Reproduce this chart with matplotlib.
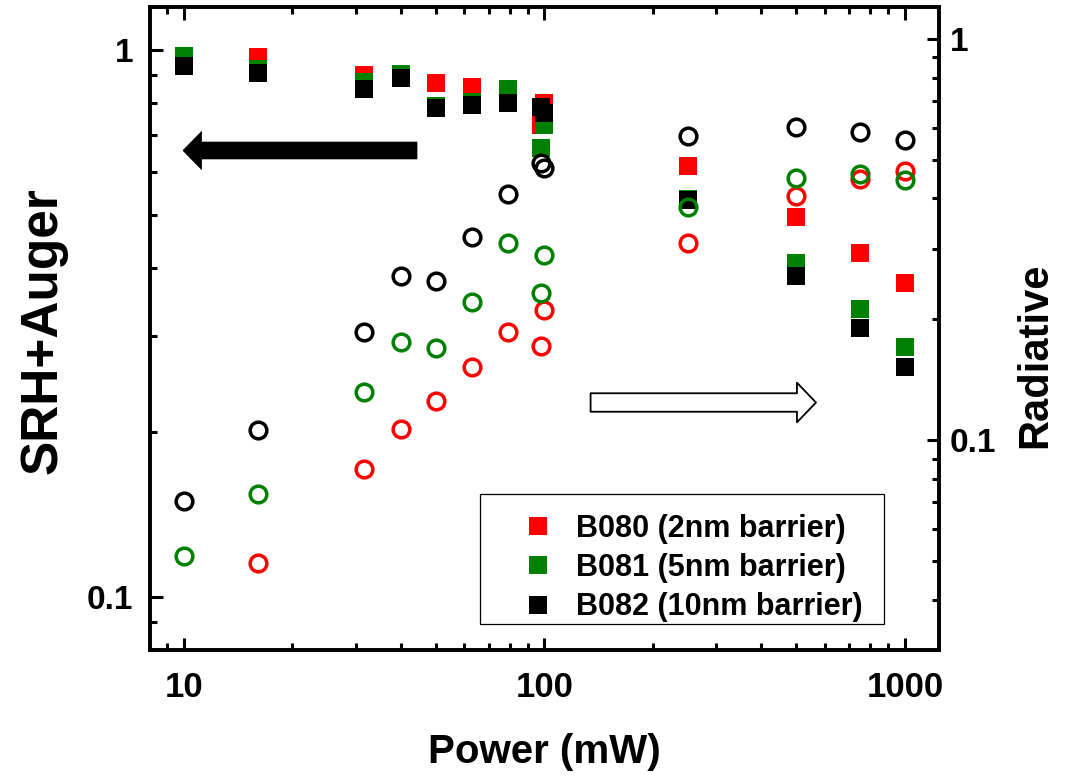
import numpy as np
import matplotlib
matplotlib.use("Agg")
import matplotlib.pyplot as plt
from matplotlib.patches import FancyArrowPatch, Rectangle, ArrowStyle
from matplotlib.ticker import LogLocator, NullFormatter, FixedLocator, FixedFormatter

# ---------------- data ----------------
power = [10, 16, 31.6, 40, 50, 63, 79, 98, 100, 250, 500, 750, 1000]

# SRH+Auger fraction (left axis, filled squares)
srh_b080 = [0.975, 0.972, 0.901, 0.900, 0.870, 0.855, 0.850, 0.731, 0.800, 0.613, 0.496, 0.426, 0.376]
srh_b081 = [0.975, 0.926, 0.876, 0.905, 0.791, 0.803, 0.850, 0.664, 0.731, 0.535, 0.408, 0.336, 0.287]
srh_b082 = [0.935, 0.909, 0.850, 0.890, 0.785, 0.795, 0.800, 0.787, 0.769, 0.533, 0.386, 0.311, 0.263]

# Radiative fraction (right axis, open circles)
rad_b080 = [np.nan, 0.0493, 0.0847, 0.1063, 0.1253, 0.1518, 0.1862, 0.1716, 0.211, 0.310, 0.406, 0.447, 0.469]
rad_b081 = [0.0514, 0.0736, 0.1315, 0.1758, 0.1698, 0.2213, 0.3094, 0.232, 0.289, 0.381, 0.449, 0.461, 0.444]
rad_b082 = [0.0706, 0.1059, 0.1856, 0.2564, 0.249, 0.3214, 0.410, 0.490, 0.4777, 0.573, 0.604, 0.587, 0.560]

labels = ["B080 (2nm barrier)", "B081 (5nm barrier)", "B082 (10nm barrier)"]
colors = ["#ff0000", "#008000", "#000000"]

x_ticks = [10, 100, 1000]
x_ticklabels = ["10", "100", "1000"]
y_ticks = [0.1, 1]
y_ticklabels = ["0.1", "1"]

# ---------------- style ----------------
plt.rcParams["font.family"] = ["Liberation Sans", "DejaVu Sans"]
plt.rcParams["font.weight"] = "bold"

W, H = 1068, 776
fig = plt.figure(figsize=(W / 100, H / 100), dpi=100)
L, R, T, B = 150, 939, 7, 650
ax = fig.add_axes([L / W, (H - B) / H, (R - L) / W, (B - T) / H])
ax.set_xscale("log")
ax.set_yscale("log")
ax.set_xlim(8.05, 1243)
ax.set_ylim(0.08, 1.2)

ax2 = ax.twinx()
ax2.set_yscale("log")
ax2.set_ylim(0.03, 1.2)

ms_sq = 12.7
for vals, c, lab in zip([srh_b080, srh_b081, srh_b082], colors, labels):
    ax.plot(power, vals, ls="none", marker="s", ms=ms_sq, mfc=c, mec=c, mew=0, label=lab)

for vals, c in zip([rad_b080, rad_b081, rad_b082], colors):
    ax2.plot(power, vals, ls="none", marker="o", ms=12.0, mfc="none", mec=c, mew=2.5)

spine_lw = 2.6
for a in (ax, ax2):
    for s in a.spines.values():
        s.set_linewidth(spine_lw)

ax.xaxis.set_major_locator(FixedLocator(x_ticks))
ax.xaxis.set_major_formatter(FixedFormatter(x_ticklabels))
ax.xaxis.set_minor_locator(LogLocator(base=10, subs=np.arange(2, 10)))
ax.xaxis.set_minor_formatter(NullFormatter())
for a in (ax, ax2):
    a.yaxis.set_major_locator(FixedLocator(y_ticks))
    a.yaxis.set_major_formatter(FixedFormatter(y_ticklabels))
    a.yaxis.set_minor_locator(LogLocator(base=10, subs=np.arange(2, 10)))
    a.yaxis.set_minor_formatter(NullFormatter())

ax.tick_params(which="both", direction="in", top=True, right=False, width=2.2)
ax.tick_params(which="major", length=9)
ax.tick_params(which="minor", length=5)
ax.tick_params(axis="x", which="major", pad=15, labelsize=25)
ax.tick_params(axis="y", which="major", pad=12, labelsize=24)
ax2.tick_params(which="both", direction="in", right=True, left=False, width=2.2)
ax2.tick_params(which="major", length=9, labelsize=24, pad=8)
ax2.tick_params(which="minor", length=5)

# axis titles
ax.set_xlabel("Power (mW)", fontsize=29, fontweight="bold", va="center")
ax.xaxis.set_label_coords(0.5, (B - 752) / (B - T))
ax.set_ylabel("SRH+Auger", fontsize=37, fontweight="bold", va="center")
ax.yaxis.set_label_coords((43 - L) / (R - L), (B - 331) / (B - T))
ax2.set_ylabel("Radiative", fontsize=30, fontweight="bold", va="center")
ax2.yaxis.set_label_coords((1035 - L) / (R - L), (B - 355) / (B - T))

def fx(px):
    return (px - L) / (R - L)

def fy(py):
    return (B - py) / (B - T)

# arrows
black_arrow = FancyArrowPatch((fx(417), fy(150.5)), (fx(183), fy(150.5)),
                              transform=ax.transAxes,
                              arrowstyle=ArrowStyle.Simple(head_length=13.4, head_width=27.4, tail_width=12.2),
                              mutation_scale=1, shrinkA=0, shrinkB=0,
                              fc="black", ec="black", lw=0.5)
ax2.add_artist(black_arrow)
white_arrow = FancyArrowPatch((fx(590.6), fy(402.5)), (fx(816), fy(402.5)),
                              transform=ax.transAxes,
                              arrowstyle=ArrowStyle.Simple(head_length=13.7, head_width=28.5, tail_width=13.3),
                              mutation_scale=1, shrinkA=0, shrinkB=0,
                              fc="white", ec="black", lw=1.3)
ax2.add_artist(white_arrow)

# legend (frame drawn separately)
handles, labs = ax.get_legend_handles_labels()
leg = ax2.legend(handles, labs, loc="upper left", bbox_to_anchor=(fx(523), fy(514)),
                 bbox_transform=ax.transAxes, frameon=False,
                 borderpad=0, borderaxespad=0, handlelength=1.0, handletextpad=0.74,
                 labelspacing=0.3, numpoints=1, prop={"weight": "bold", "size": 22})
frame = Rectangle((fx(480), fy(624)), fx(884) - fx(480), fy(494) - fy(624),
                  transform=ax.transAxes, fill=False, ec="black", lw=0.9)
ax2.add_artist(frame)

fig.savefig("out.png", dpi=100)
